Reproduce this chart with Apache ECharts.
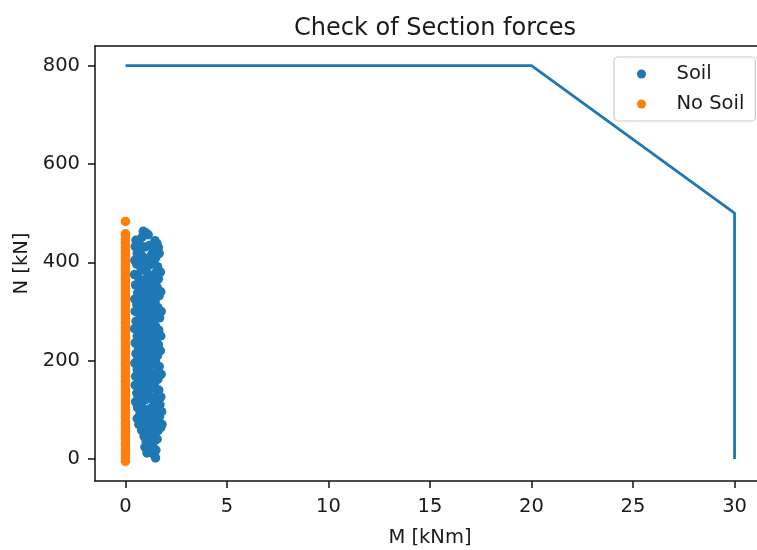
<!DOCTYPE html>
<html>
<head>
<meta charset="utf-8">
<script src="https://cdn.jsdelivr.net/npm/echarts@6/dist/echarts.min.js"></script>
<style>
  html, body { margin: 0; padding: 0; background: #fff; overflow: hidden; }
  #chart { width: 757px; height: 550px; }
</style>
</head>
<body>
<div id="chart"></div>
<script>
// Interaction diagram (capacity envelope) of the section
const capacityM = [0, 20, 30, 30];
const capacityN = [800, 800, 500, 0];

// Section forces with soil: bending moment M [kNm] and normal force N [kN]
const soilPoints = [
  [0.88,463],[1.00,460],[1.12,456],[0.82,451],[1.45,444],[1.55,438],[0.52,445],[0.66,440],
  [0.48,432],[0.72,428],[0.95,431],[1.18,434],[1.36,426],[1.62,430],[0.58,418],[0.84,412],
  [1.28,415],[1.50,410],[0.46,404],[0.70,401],[1.10,405],[1.40,400],[1.66,418],
  [0.55,396],[0.92,392],[1.22,395],[1.58,391],[0.78,385],[1.05,380],[1.48,378],[0.45,375],
  [0.66,368],[0.98,364],[1.30,370],[1.62,366],[0.85,360],[1.15,357],[1.42,362],[1.72,380],
  [0.50,354],[0.74,349],[1.00,346],[1.26,343],[1.55,350],[0.60,338],[0.88,334],[1.12,330],
  [1.38,336],[1.66,332],[0.46,325],[0.72,322],[1.02,318],[1.46,320],[1.74,340],
  [0.56,314],[0.82,310],[1.20,312],[1.60,308],[0.48,300],[0.68,296],[0.94,302],[1.32,298],
  [1.55,292],[0.80,288],[1.08,285],[1.40,282],[1.68,287],[0.52,280],[1.76,300],
  [0.62,276],[0.90,272],[1.16,275],[1.48,270],[0.45,265],[0.76,260],[1.02,262],[1.30,258],
  [1.64,262],[0.58,250],[0.86,246],[1.20,248],[1.52,244],[0.70,240],[1.36,240],[1.74,250],
  [0.48,236],[0.98,234],[1.62,232],[0.64,226],[0.88,222],[1.14,228],[1.42,224],[0.52,214],
  [0.78,210],[1.06,212],[1.30,216],[1.58,210],[0.60,202],[0.94,200],[1.22,204],[1.48,200],
  [1.72,220],[0.46,195],[0.72,192],[1.04,190],[1.36,194],[1.66,188],[0.58,182],[0.84,178],
  [1.14,180],[1.50,176],[0.50,168],[0.76,165],[1.00,170],[1.26,166],[1.60,162],[0.66,160],
  [1.76,172],[0.90,156],[1.18,152],[1.44,155],[0.48,150],[0.70,146],[1.02,142],[1.32,144],
  [1.64,140],[0.56,134],[0.86,130],[1.10,132],[1.52,128],[0.62,122],[0.96,120],[1.28,124],
  [1.74,126],[0.50,116],[0.78,112],[1.40,114],[1.70,110],[0.60,104],[0.92,100],[1.20,102],
  [1.56,98],[0.72,92],[1.04,88],[1.34,90],[1.68,86],[0.58,82],[0.86,80],[1.78,96],
  [1.16,76],[1.48,74],[0.66,70],[0.98,66],[1.30,68],[1.74,64],[0.80,58],[1.10,55],
  [1.44,52],[1.62,58],[0.92,46],[1.24,44],[1.56,40],[1.80,70],
  [1.02,36],[1.36,32],[0.96,24],[1.20,20],[1.50,18],[1.06,12],[1.42,8],[1.48,2]
];

// Section forces without soil: all at M = 0 kNm
const noSoilM = 0;
const noSoilN = [
  -5, 2, 9, 15, 21, 28, 33, 40, 46, 52, 57, 64, 70, 75, 83, 88, 94, 101, 106, 113,
  119, 124, 131, 137, 142, 149, 155, 160, 167, 173, 178, 185, 191, 196, 203, 208, 214,
  221, 227, 232, 239, 245, 250, 257, 262, 268, 275, 280, 286, 293, 298, 304, 311, 316,
  322, 329, 334, 340, 347, 352, 358, 365, 370, 376, 383, 388, 394, 401, 406, 412, 419,
  424, 430, 437, 442, 448, 455, 458, 483
];

const xTicks = [0, 5, 10, 15, 20, 25, 30];
const yTicks = [0, 200, 400, 600, 800];

const FONT = 'DejaVu Sans';
const TEXT = '#1a1a1a';
const SPINE = '#111';
const BLUE = '#1f77b4';
const ORANGE = '#ff7f0e';

const chart = echarts.init(document.getElementById('chart'), null, { renderer: 'canvas' });

const labelFont = { fontFamily: FONT, fontSize: 19.5, color: TEXT };

chart.setOption({
  backgroundColor: '#ffffff',
  animation: false,
  title: {
    text: 'Check of Section forces',
    left: 430,
    textAlign: 'center',
    top: 12,
    textStyle: { fontFamily: FONT, fontSize: 24, fontWeight: 'normal', color: TEXT }
  },
  legend: {
    data: ['Soil', 'No Soil'],
    orient: 'vertical',
    left: 614,
    top: 57,
    padding: [7, 11, 7, 23],
    itemGap: 10,
    itemWidth: 14,
    itemHeight: 9,
    icon: 'circle',
    backgroundColor: 'rgba(255,255,255,0.8)',
    borderColor: '#cccccc',
    borderWidth: 1.2,
    borderRadius: 4,
    textStyle: Object.assign({ padding: [0, 0, 0, 23] }, labelFont)
  },
  grid: {
    left: 95,
    top: 46,
    width: 670,
    height: 435,
    show: false,
    containLabel: false,
    outerBoundsMode: 'none'
  },
  xAxis: [
    {
      type: 'value',
      min: -1.5,
      max: 31.5,
      name: 'M [kNm]',
      nameLocation: 'middle',
      nameGap: 47,
      nameTextStyle: labelFont,
      axisLine: { show: true, onZero: false, lineStyle: { color: SPINE, width: 1.5 } },
      axisTick: { show: true, length: 7, customValues: xTicks, lineStyle: { color: SPINE, width: 1.5 } },
      axisLabel: Object.assign({ customValues: xTicks, margin: 16 }, labelFont),
      splitLine: { show: false }
    },
    {
      // top spine of the plot frame
      type: 'value',
      position: 'top',
      min: -1.5,
      max: 31.5,
      axisLine: { show: true, onZero: false, lineStyle: { color: SPINE, width: 1.5 } },
      axisTick: { show: false },
      axisLabel: { show: false },
      splitLine: { show: false }
    }
  ],
  yAxis: {
    type: 'value',
    min: -45,
    max: 840,
    name: 'N [kN]',
    nameLocation: 'middle',
    nameRotate: 90,
    nameGap: 61,
    nameTextStyle: labelFont,
    axisLine: { show: true, onZero: false, lineStyle: { color: SPINE, width: 1.5 } },
    axisTick: { show: true, length: 7, customValues: yTicks, lineStyle: { color: SPINE, width: 1.5 } },
    axisLabel: Object.assign({ customValues: yTicks, margin: 15 }, labelFont),
    splitLine: { show: false }
  },
  series: [
    {
      type: 'line',
      data: capacityM.map((m, i) => [m, capacityN[i]]),
      showSymbol: false,
      symbol: 'none',
      lineStyle: { color: BLUE, width: 2.8 },
      z: 2
    },
    {
      name: 'Soil',
      type: 'scatter',
      data: soilPoints,
      symbol: 'circle',
      symbolSize: 9.5,
      itemStyle: { color: BLUE, opacity: 1 },
      z: 3
    },
    {
      name: 'No Soil',
      type: 'scatter',
      data: noSoilN.map(n => [noSoilM, n]),
      symbol: 'circle',
      symbolSize: 9.5,
      itemStyle: { color: ORANGE, opacity: 1 },
      z: 4
    }
  ]
});
</script>
</body>
</html>
